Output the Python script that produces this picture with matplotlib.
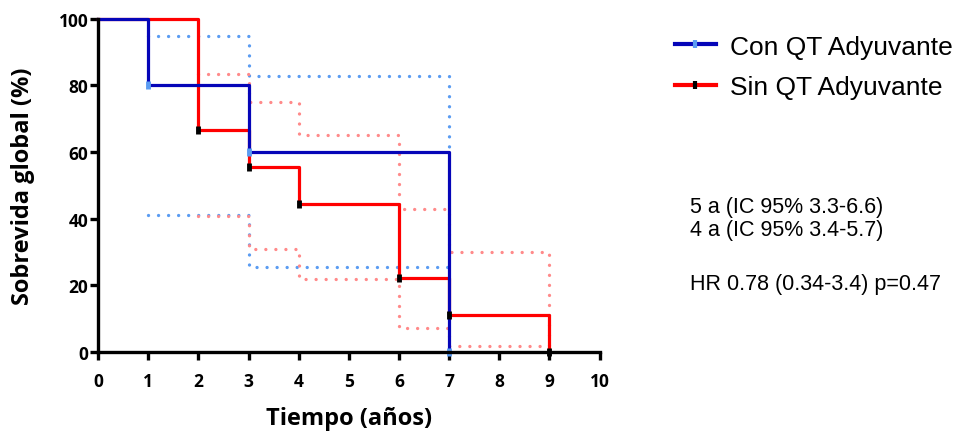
import numpy as np
import matplotlib.pyplot as plt

# Kaplan-Meier steps (años, %)
t_con = [0, 1, 3, 7]
s_con = [100, 80, 60, 0]
t_sin = [0, 2, 3, 4, 6, 7, 9]
s_sin = [100, 66.7, 55.6, 44.4, 22.2, 11.1, 0]

# 95% CI bands
ci_con_t = [1, 3, 7]
ci_con_hi = [94.8, 82.7, 60]
ci_con_lo = [41.0, 25.5, 25.5]
ci_sin_t = [2, 3, 4, 6, 7, 9]
ci_sin_hi = [83.5, 75.0, 65.2, 43.0, 30.0, 1.8]
ci_sin_lo = [40.8, 30.8, 21.8, 7.0, 1.8, 1.8]

labels = ['Con QT Adyuvante', 'Sin QT Adyuvante']
notes = ['5 a (IC 95% 3.3-6.6)', '4 a (IC 95% 3.4-5.7)', 'HR 0.78 (0.34-3.4) p=0.47']
notes_y = [0.524, 0.469, 0.345]

blue, red = '#0505b8', '#ff0000'
blue_ci, red_ci = '#5b9cf2', '#ff8a8a'

fig = plt.figure(figsize=(9.61, 4.35), dpi=100)
ax = fig.add_axes([0.102, 0.189, 0.522, 0.766])

dot = (0, (0.01, 3.0))
for t, y, c in [(ci_con_t, ci_con_hi, blue_ci), (ci_con_t, ci_con_lo, blue_ci),
                (ci_sin_t, ci_sin_hi, red_ci), (ci_sin_t, ci_sin_lo, red_ci)]:
    ax.step(t, y, where='post', color=c, lw=2.4, ls=dot, dash_capstyle='round')

ax.step(t_sin, s_sin, where='post', color=red, lw=2.3)
ax.step(t_con, s_con, where='post', color=blue, lw=2.3)
ax.plot(t_sin[1:], s_sin[1:], ls='none', marker='|', ms=6, mew=3.5, color='black')
ax.plot(t_con[1:], s_con[1:], ls='none', marker='|', ms=6, mew=3.5, color=blue_ci)

ax.set_xlim(0, 10)
ax.set_ylim(0, 100)
ax.set_xticks(range(0, 11))
ax.set_yticks(range(0, 101, 20))
for s in ['top', 'right']:
    ax.spines[s].set_visible(False)
for s in ['left', 'bottom']:
    ax.spines[s].set_linewidth(2.4)
ax.tick_params(width=2.4, length=5.5, labelsize=12.5)
ax.tick_params(axis='x', pad=9)
ax.tick_params(axis='y', pad=1.5)
for lab in ax.get_xticklabels() + ax.get_yticklabels():
    lab.set_fontweight('bold')
    lab.set_fontfamily('Open Sans')
ax.set_xlabel('Tiempo (años)', fontsize=17, fontweight='bold', family='Open Sans', va='center')
ax.set_ylabel('Sobrevida global (%)', fontsize=17, fontweight='bold', family='Open Sans', va='center')
ax.xaxis.set_label_coords(0.5, -0.2)
ax.yaxis.set_label_coords(-0.15, 0.5)
for ln in ax.lines:
    ln.set_clip_on(False)

# legend
h1, = ax.plot([], [], color=blue, lw=3, marker='|', ms=6, mew=3, mec=blue_ci)
h2, = ax.plot([], [], color=red, lw=3, marker='|', ms=6, mew=3, mec='black')
fig.legend([h1, h2], labels, loc='upper left', bbox_to_anchor=(0.702, 0.918),
           frameon=False, prop={'family': 'Liberation Sans', 'size': 19},
           handlelength=1.55, handletextpad=0.55, labelspacing=0.62,
           borderpad=0, borderaxespad=0, numpoints=1)

for txt, yy in zip(notes, notes_y):
    fig.text(0.718, yy, txt, fontsize=15.5, family='Liberation Sans', va='center')

fig.savefig('out.png', dpi=100)
